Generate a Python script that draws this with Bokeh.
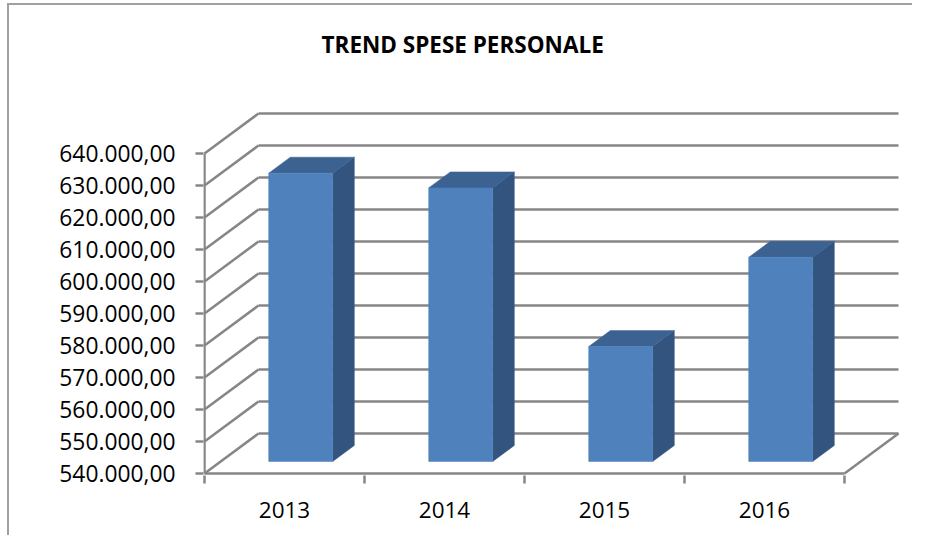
from bokeh.plotting import figure
from bokeh.models import FixedTicker, Range1d
from bokeh.embed import file_html
from bokeh.resources import INLINE

# ---- data ----
years = ["2013", "2014", "2015", "2016"]
spese = [630100, 625500, 575900, 603800]
y_ticks = [540000, 550000, 560000, 570000, 580000, 590000, 600000, 610000, 620000, 630000, 640000]
y_tick_labels = ["540.000,00", "550.000,00", "560.000,00", "570.000,00", "580.000,00",
                 "590.000,00", "600.000,00", "610.000,00", "620.000,00", "630.000,00", "640.000,00"]
title_text = "TREND SPESE PERSONALE"

# ---- 3D geometry (oblique projection in data units) ----
n = len(years)
base = y_ticks[0]
DX = 0.3375      # depth offset along x (categories)
DY = 12500.0     # depth offset along y (value units)
f0, f1 = 0.3, 0.7  # bar depth position (fraction of depth)
bw = 0.4         # bar width (categories)

GRID = "#868686"
FRONT = "#4F81BD"
SIDE = "#33547F"
TOP = "#3C6292"

# canvas origin on page
OX, OY = 9, 5
W, H = 905, 532

p = figure(width=W, height=H, output_backend="svg", toolbar_location=None,
           x_range=Range1d(-0.00625, 4.35), y_range=Range1d(539375, 653437.5),
           min_border_left=203 - OX, min_border_right=W - (900 - OX),
           min_border_top=110 - OY, min_border_bottom=H - (475 - OY))
p.styles = {"position": "relative", "left": f"{OX}px", "top": f"{OY}px",
            "box-shadow": "-2px -2px 0 0 #A0A0A0"}
p.background_fill_color = "white"
p.border_fill_color = "white"
p.outline_line_color = None
p.xgrid.grid_line_color = None
p.ygrid.grid_line_color = None

# walls & floor gridlines
xs, ys = [], []
for v in y_ticks:
    xs.append([0, DX]); ys.append([v, v + DY])                 # side wall diagonal
    xs.append([DX, n + DX]); ys.append([v + DY, v + DY])       # back wall line
xs.append([0, 0]); ys.append([base, y_ticks[-1]])              # front vertical axis
xs.append([0, n]); ys.append([base, base])                     # floor front edge
xs.append([n, n + DX]); ys.append([base, base + DY])           # floor right edge
p.multi_line(xs, ys, line_color=GRID, line_width=2.5)

# bars
fx, fy, sx, sy, tx, ty = [], [], [], [], [], []
for i, v in enumerate(spese):
    x0 = i + 0.5 - bw / 2 + f0 * DX
    x1 = x0 + bw
    yb = base + f0 * DY
    yt = v + f0 * DY
    ddx = (f1 - f0) * DX
    ddy = (f1 - f0) * DY
    fx.append([x0, x1, x1, x0]); fy.append([yb, yb, yt, yt])
    sx.append([x1, x1 + ddx, x1 + ddx, x1]); sy.append([yb, yb + ddy, yt + ddy, yt])
    tx.append([x0, x1, x1 + ddx, x0 + ddx]); ty.append([yt, yt, yt + ddy, yt + ddy])
p.patches(sx, sy, fill_color=SIDE, line_color=SIDE, line_width=0.5)
p.patches(tx, ty, fill_color=TOP, line_color=TOP, line_width=0.5)
p.patches(fx, fy, fill_color=FRONT, line_color=FRONT, line_width=0.5)

# y axis
ya = p.yaxis[0]
ya.ticker = FixedTicker(ticks=y_ticks, minor_ticks=[])
ya.major_label_overrides = {t: l for t, l in zip(y_ticks, y_tick_labels)}
ya.axis_line_color = None
ya.major_tick_in = 0
ya.major_tick_out = 8
ya.major_tick_line_color = GRID
ya.major_tick_line_width = 2.5
ya.major_label_standoff = 20
ya.major_label_text_font = "Open Sans"
ya.major_label_text_font_size = "22.8px"
ya.major_label_text_color = "black"

# x axis
xa = p.xaxis[0]
xa.ticker = FixedTicker(ticks=[i + 0.5 for i in range(n)], minor_ticks=list(range(n + 1)))
xa.major_label_overrides = {i + 0.5: y for i, y in enumerate(years)}
xa.axis_line_color = None
xa.major_tick_in = 0
xa.major_tick_out = 0
xa.minor_tick_in = 0
xa.minor_tick_out = 8
xa.minor_tick_line_color = GRID
xa.minor_tick_line_width = 2.5
xa.major_label_standoff = 18
xa.major_label_text_font = "Open Sans"
xa.major_label_text_font_size = "22.5px"
xa.major_label_text_color = "black"

# title (one empty trailing line lifts it above the plot area)
p.title.text = title_text + "\n"
p.title.align = "left"
p.title.offset = 118
p.title.vertical_align = "bottom"
p.title.standoff = 40
p.title.text_font = "Open Sans"
p.title.text_font_style = "bold"
p.title.text_font_size = "22.5px"
p.title.text_color = "black"

open("out.html", "w").write(file_html(p, INLINE))
